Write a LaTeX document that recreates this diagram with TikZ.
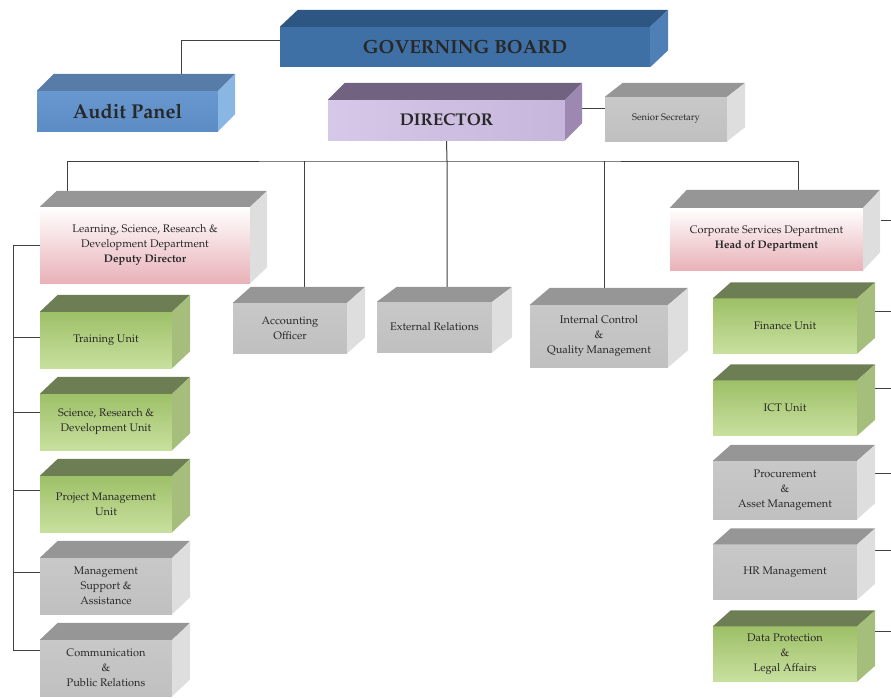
\documentclass[tikz,border=0pt]{standalone}
\usepackage[T1]{fontenc}
\usepackage{mathpazo}
\usetikzlibrary{positioning,calc,backgrounds}

\definecolor{gbfront}{RGB}{62,111,165}
\definecolor{gbtop}{RGB}{46,86,130}
\definecolor{gbside}{RGB}{78,127,182}
\definecolor{audfront}{RGB}{104,152,207}
\definecolor{audlow}{RGB}{92,140,196}
\definecolor{audtop}{RGB}{88,124,168}
\definecolor{audside}{RGB}{138,182,228}
\definecolor{dirleft}{RGB}{214,200,232}
\definecolor{dirright}{RGB}{198,182,220}
\definecolor{dirtop}{RGB}{112,98,128}
\definecolor{dirside}{RGB}{156,136,176}
\definecolor{grayfront}{RGB}{200,200,200}
\definecolor{graylow}{RGB}{192,192,192}
\definecolor{graytop}{RGB}{150,150,150}
\definecolor{grayside}{RGB}{222,222,222}
\definecolor{pinklow}{RGB}{232,178,184}
\definecolor{greenhigh}{RGB}{158,192,104}
\definecolor{greenlow}{RGB}{200,224,158}
\definecolor{greentop}{RGB}{110,126,84}
\definecolor{greenside}{RGB}{166,190,124}
\definecolor{txt}{RGB}{40,40,40}

\newcommand{\boxfaces}[4]{%
  \fill[#2] (#1.north west) -- ++(#4) -- ($(#1.north east)+(#4)$) -- (#1.north east) -- cycle;
  \fill[#3] (#1.north east) -- ++(#4) -- ($(#1.south east)+(#4)$) -- (#1.south east) -- cycle;}

\begin{document}
\begin{tikzpicture}[x=1pt, y=-1pt, node distance=82pt, on grid]
\tikzstyle{front}=[rectangle, draw=none, inner sep=0pt, align=center, text=txt, font=\fontsize{11}{15}\selectfont]
\tikzstyle{gbbox}=[front, fill=gbfront, minimum width=370pt, minimum height=40pt, font=\bfseries\fontsize{19}{22}\selectfont]
\tikzstyle{audbox}=[front, top color=audfront, bottom color=audlow, minimum width=181pt, minimum height=40pt, font=\bfseries\fontsize{20}{22}\selectfont]
\tikzstyle{dirbox}=[front, left color=dirleft, right color=dirright, minimum width=237pt, minimum height=40pt, font=\bfseries\fontsize{17}{20}\selectfont]
\tikzstyle{graybox}=[front, top color=grayfront, bottom color=graylow]
\tikzstyle{pinkbox}=[front, top color=white, bottom color=pinklow]
\tikzstyle{greenbox}=[front, top color=greenhigh, bottom color=greenlow]
\tikzstyle{lunit}=[minimum width=132pt, minimum height=56pt]
\tikzstyle{runit}=[minimum width=144pt, minimum height=55pt]
\tikzstyle{link}=[draw=black!75, line width=1pt]

\useasboundingbox (0,0) rectangle (891,697);
\clip (0,0) rectangle (891,697);

\node (gb) [gbbox] at (465,47) {GOVERNING BOARD};
\node (aud) [audbox] at (127.5,111) {Audit Panel};
\node (dir) [dirbox] at (446.5,120) {DIRECTOR};
\node (sec) [graybox, minimum width=122pt, minimum height=44pt, font=\fontsize{9.5}{11}\selectfont] at (666,119) {Senior Secretary};

\node (lsrd) [pinkbox, minimum width=210pt, minimum height=76pt] at (145,245) {Learning, Science, Research \&\\Development Department\\\textbf{Deputy Director}};
\node (corp) [pinkbox, minimum width=193pt, minimum height=62pt] at (766.5,239) {Corporate Services Department\\\textbf{Head of Department}};

\node (acc) [graybox, minimum width=114pt, minimum height=50pt] at (290,328) {Accounting\\Officer};
\node (ext) [graybox, minimum width=115pt, minimum height=50pt] at (434.5,327) {External Relations};
\node (ictl) [graybox, minimum width=138pt, minimum height=62pt] at (599,336) {Internal Control\\\&\\Quality Management};

\node (trn) [greenbox, lunit] at (106,340) {Training Unit};
\node (srd) [greenbox, lunit, below=of trn] {Science, Research \&\\Development Unit};
\node (pmu) [greenbox, lunit, below=of srd] {Project Management\\Unit};
\node (msa) [graybox, lunit, below=of pmu] {Management\\Support \&\\Assistance};
\node (cpr) [graybox, lunit, below=of msa] {Communication\\\&\\Public Relations};

\node (fin) [greenbox, runit] at (785,326) {Finance Unit};
\node (ict) [greenbox, runit, below=of fin] {ICT Unit};
\node (prc) [graybox, runit, minimum height=58pt, below=of ict] {Procurement\\\&\\Asset Management};
\node (hrm) [graybox, runit, below=of prc] {HR Management};
\node (dpl) [greenbox, runit, below=of hrm] {Data Protection\\\&\\Legal Affairs};

\boxfaces{gb}{gbtop}{gbside}{18,-17}
\boxfaces{aud}{audtop}{audside}{17,-17}
\boxfaces{dir}{dirtop}{dirside}{17,-17}
\boxfaces{sec}{graytop}{grayside}{18,-14}
\boxfaces{lsrd}{graytop}{grayside}{17,-16}
\boxfaces{corp}{graytop}{grayside}{17,-18}
\boxfaces{acc}{graytop}{grayside}{18,-16}
\boxfaces{ext}{graytop}{grayside}{20,-15}
\boxfaces{ictl}{graytop}{grayside}{20,-17}
\foreach \n in {trn,srd,pmu}{\boxfaces{\n}{greentop}{greenside}{18,-17}}
\foreach \n in {msa,cpr}{\boxfaces{\n}{graytop}{grayside}{18,-17}}
\foreach \n in {fin,ict,dpl}{\boxfaces{\n}{greentop}{greenside}{18,-16}}
\foreach \n in {prc,hrm}{\boxfaces{\n}{graytop}{grayside}{18,-16}}

\begin{scope}[on background layer]
\coordinate (bus) at (447,161);
\coordinate (lbus) at (13,0);
\coordinate (rbus) at (891,0);
\draw[link] ([yshift=7pt]gb.west) -| ([xshift=54pt]aud.north);
\draw[link] ([yshift=11pt]sec.west) -- ([yshift=11pt]sec.west -| dir.east);
\draw[link] (dir.south) -- (bus) -- (bus |- ext.north);
\draw[link] ([xshift=-78pt]lsrd.north) |- (bus) -| ([xshift=32pt]corp.north);
\draw[link] ([xshift=14pt]acc.north) -- ([xshift=14pt]acc.north |- bus);
\draw[link] ([xshift=5pt]ictl.north) -- ([xshift=5pt]ictl.north |- bus);
\draw[link] (lsrd.west) -- (lsrd.west -| lbus) |- ([yshift=18pt]cpr.west);
\foreach \n/\s in {trn/3,srd/10,pmu/14,msa/14}
  \draw[link] ([yshift=\s pt]\n.west) -- ([yshift=\s pt]\n.west -| lbus);
\foreach \n/\s in {corp/19,fin/15,ict/20,prc/17,hrm/22,dpl/23}
  \draw[link] ([xshift=18pt,yshift=\s pt]\n.east) -- ([yshift=\s pt]\n.east -| rbus);
\end{scope}
\end{tikzpicture}
\end{document}
